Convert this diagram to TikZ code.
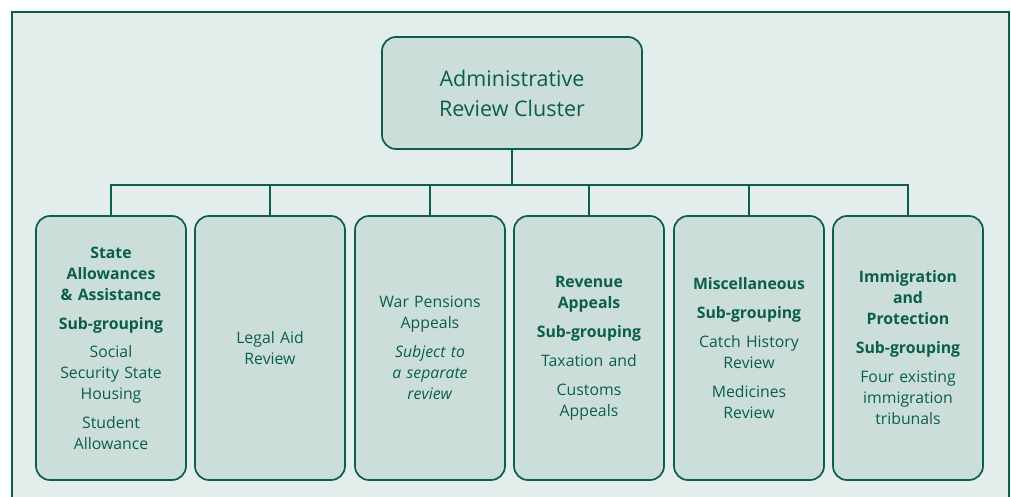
\documentclass[tikz,border=0pt]{standalone}
\usepackage{fontspec}
\setmainfont{Open Sans}
\usepackage{tikz}

\definecolor{frameGreen}{HTML}{0B5E4B}
\definecolor{paleBack}{HTML}{E3EDEB}
\definecolor{boxFill}{HTML}{CCDEDA}

\tikzset{
	clusterbox/.style={draw=frameGreen, fill=boxFill, line width=1.7pt, rounded corners=14pt,
		text=frameGreen, align=center, inner sep=0pt},
	groupbox/.style={clusterbox, minimum width=150pt, minimum height=264pt, text width=150pt,
		font=\fontsize{15.8}{21}\selectfont},
	link/.style={draw=frameGreen, line width=1.7pt}
}

\begin{document}
\begin{tikzpicture}[x=1pt, y=-1pt]
	\useasboundingbox (0, 0) rectangle (1011, 497);
	\filldraw [fill=paleBack, draw=frameGreen, line width=2pt] (12, 12) rectangle (1009, 530);
	
	\node [clusterbox, minimum width=260pt, minimum height=112pt, font=\fontsize{21.5}{30}\selectfont]
		(cluster) at (512, 93) {Administrative\\Review Cluster};
	\coordinate (bar) at (512, 185);
	
	\def\cy{348}
	\node [groupbox] (state) at (111, \cy) {
		\textbf{State}\\\textbf{Allowances}\\\textbf{\& Assistance}\\[8pt]
		\textbf{Sub-grouping}\\[7pt]
		Social\\Security State\\Housing\\[8pt]
		Student\\Allowance};
	\node [groupbox] (legal) at (270, \cy) {Legal Aid\\Review};
	\node [groupbox] (war) at (430, \cy) {
		War Pensions\\Appeals\\[8pt]
		\textit{Subject to}\\\textit{a separate}\\\textit{review}};
	\node [groupbox] (revenue) at (589, \cy) {
		\textbf{Revenue}\\\textbf{Appeals}\\[8pt]
		\textbf{Sub-grouping}\\[8pt]
		Taxation and\\[8pt]
		Customs\\Appeals};
	\node [groupbox] (misc) at (749, \cy) {
		\textbf{Miscellaneous}\\[8pt]
		\textbf{Sub-grouping}\\[8pt]
		Catch History\\Review\\[8pt]
		Medicines\\Review};
	\node [groupbox] (immig) at (908, \cy) {
		\textbf{Immigration}\\\textbf{and}\\\textbf{Protection}\\[8pt]
		\textbf{Sub-grouping}\\[8pt]
		Four existing\\immigration\\tribunals};
	
	% tree lines
	\draw [link] (cluster.south) -- (bar);
	\foreach \n in {state, legal, war, revenue, misc, immig}
		\draw [link] (\n.north) |- (bar);
	
\end{tikzpicture}
\end{document}
